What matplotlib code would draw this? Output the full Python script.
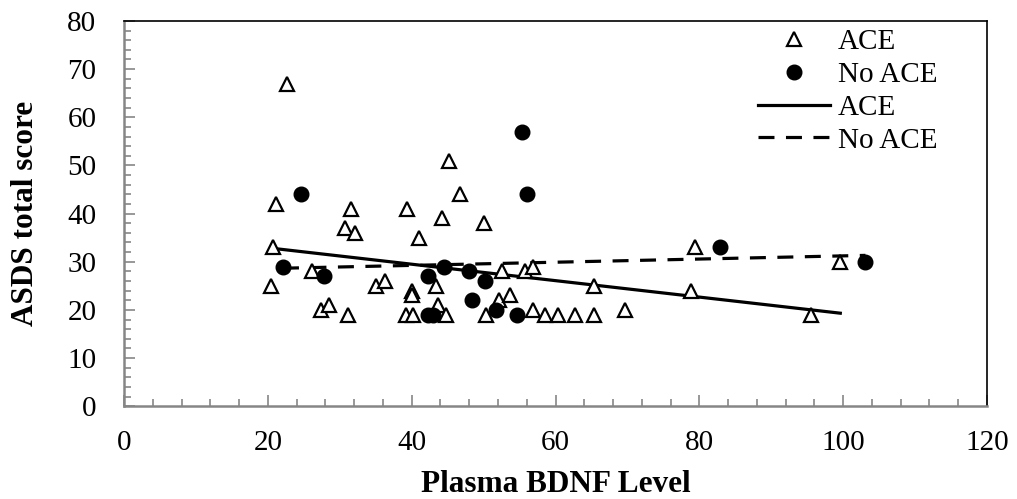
import numpy as np
import matplotlib
matplotlib.use('Agg')
import matplotlib.pyplot as plt
from matplotlib.ticker import MultipleLocator

plt.rcParams['font.family'] = ['Liberation Serif', 'DejaVu Serif']

# ACE group (triangles)
ace_x = [22.7, 21.1, 20.7, 20.4, 26.1, 27.4, 28.5, 31.1, 31.5, 30.7, 32.1, 35.0,
         36.3, 39.4, 39.2, 40.2, 40.1, 40.0, 41.0, 43.4, 43.7, 44.2, 44.8, 45.2,
         46.7, 50.1, 50.3, 52.2, 52.5, 53.6, 55.8, 56.9, 56.8, 58.6, 60.4, 62.7,
         65.3, 65.3, 69.7, 78.8, 79.4, 95.5, 99.6]
ace_y = [67, 42, 33, 25, 28, 20, 21, 19, 41, 37, 36, 25,
         26, 41, 19, 19, 24, 23, 35, 25, 21, 39, 19, 51,
         44, 38, 19, 22, 28, 23, 28, 29, 20, 19, 19, 19,
         19, 25, 20, 24, 33, 19, 30]

# No ACE group (dots)
noace_x = [22.1, 24.6, 27.8, 42.2, 42.3, 43.0, 44.5, 47.9, 48.4, 50.2, 51.7,
           54.7, 55.3, 56.0, 82.9, 103.1]
noace_y = [29, 44, 27, 27, 19, 19, 29, 28, 22, 26, 20,
           19, 57, 44, 33, 30]

fig = plt.figure(figsize=(10.17, 4.99), dpi=100)
ax = fig.add_axes([0.122, 0.186, 0.8485, 0.772])

ax.plot(ace_x, ace_y, linestyle='none', marker='^', markersize=9.5,
        markerfacecolor='white', markeredgecolor='black', markeredgewidth=1.6,
        label='ACE', zorder=3)
ax.plot(noace_x, noace_y, linestyle='none', marker='o', markersize=10.5,
        color='black', label='No ACE', zorder=3)

# linear trendlines
p1 = np.polyfit(ace_x, ace_y, 1)
xs1 = np.array([min(ace_x), max(ace_x)])
ax.plot(xs1, np.polyval(p1, xs1), color='black', lw=2.3, label='ACE', zorder=2)

p2 = np.polyfit(noace_x, noace_y, 1)
xs2 = np.array([min(noace_x), max(noace_x)])
ax.plot(xs2, np.polyval(p2, xs2), color='black', lw=2.3, dashes=(5.0, 3.6),
        label='No ACE', zorder=2)

ax.set_xlim(0, 120)
ax.set_ylim(0, 80)
ax.xaxis.set_major_locator(MultipleLocator(20))
ax.xaxis.set_minor_locator(MultipleLocator(4))
ax.yaxis.set_major_locator(MultipleLocator(10))
ax.yaxis.set_minor_locator(MultipleLocator(2))

gray = '#868686'
for s in ['left', 'bottom']:
    ax.spines[s].set_color(gray)
    ax.spines[s].set_linewidth(1.8)
for s in ['top', 'right']:
    ax.spines[s].set_color('black')
    ax.spines[s].set_linewidth(1.2)

ax.tick_params(which='major', direction='in', length=8, width=1.2, color=gray,
               labelsize=21, pad=20)
ax.tick_params(which='minor', direction='in', length=5, width=1.2, color=gray)
ax.tick_params(axis='x', which='major', pad=17)

ax.set_xlabel('Plasma BDNF Level', fontsize=22.5, fontweight='bold', labelpad=10)
ax.set_ylabel('ASDS total score', fontsize=22.5, fontweight='bold')
ax.yaxis.set_label_coords(-0.097, 0.5)

ax.legend(loc='upper left', bbox_to_anchor=(0.735, 0.98), frameon=False,
          fontsize=21, handlelength=2.45, handletextpad=0.28, labelspacing=0.22,
          borderpad=0, borderaxespad=0)

fig.savefig('out.png', dpi=100)
